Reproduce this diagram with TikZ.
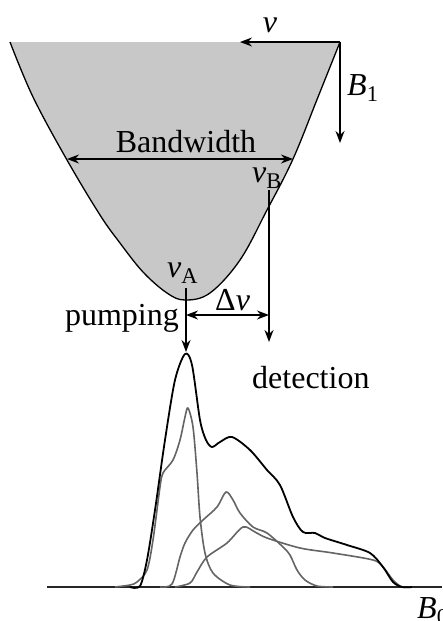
\documentclass[tikz,border=0pt]{standalone}
\usepackage{fontspec}
\setmainfont{Liberation Serif}
\usepackage{tikz}
\usetikzlibrary{arrows.meta}
\definecolor{bandgray}{RGB}{200,200,200}
\definecolor{compgray}{RGB}{100,100,100}
\tikzset{
  lbl/.style={font=\fontsize{32}{38}\selectfont, inner sep=0pt},
  arr/.style={-{Stealth[length=12pt, width=9pt]}, line width=1.4pt},
  darr/.style={{Stealth[length=12pt, width=9pt]}-{Stealth[length=12pt, width=9pt]}, line width=1.4pt},
  total/.style={line width=1.8pt, black, line join=round},
  comp/.style={line width=1.6pt, compgray, line join=round},
}
\begin{document}
\begin{tikzpicture}[x=1pt, y=-1pt]
  \useasboundingbox (0,0) rectangle (442,621);

  % band (dispersion)
  \fill[bandgray] plot[smooth, tension=0.6] coordinates {
    (10,42) (33,97) (67,160) (100,215) (120,243) (143,272) (167,293)
    (185,300) (210,293) (240,260) (267,210) (293,159) (318,97) (340,42)}
    -- cycle;
  \draw[line width=1.3pt] plot[smooth, tension=0.6] coordinates {
    (10,42) (33,97) (67,160) (100,215) (120,243) (143,272) (167,293)
    (185,300) (210,293) (240,260) (267,210) (293,159) (318,97) (340,42)};

  % axes at the corner
  \coordinate (corner) at (340,42);
  \coordinate (nuTip) at (240,42);
  \coordinate (bTip) at (340,143);
  \draw[arr] (corner) -- (nuTip);
  \draw[arr] (corner) -- (bTip);
  \node[lbl, anchor=base] (nu) at (270,32) {\textit{ν}};
  \node[lbl, anchor=base west] (bone) at (347,95) {\textit{B}\textsubscript{1}};

  % bandwidth
  \coordinate (bwL) at (67,159);
  \coordinate (bwR) at (293,159);
  \draw[darr] (bwL) -- (bwR);
  \node[lbl, anchor=base] (bw) at (186,152) {Bandwidth};

  % pumping and detection
  \node[lbl, anchor=base west] (nuB) at (252,182) {\textit{ν}\textsubscript{B}};
  \node[lbl, anchor=base west] (nuA) at (167,277) {\textit{ν}\textsubscript{A}};
  \coordinate (vBtop) at (269,190);
  \coordinate (vBtip) at (269,342);
  \coordinate (vAtop) at (186,288);
  \coordinate (vAtip) at (186,352);
  \draw[arr] (vBtop) -- (vBtip);
  \draw[arr] (vAtop) -- (vAtip);
  \coordinate (dnL) at (186,315);
  \coordinate (dnR) at (269,315);
  \draw[darr] (dnL) -- (dnR);
  \node[lbl, anchor=base west] (dnu) at (215,310) {Δ\textit{ν}};
  \node[lbl, anchor=base east] (pump) at (179,325) {pumping};
  \node[lbl, anchor=base west] (detect) at (252,388) {detection};

  % spectrum
  \coordinate (axL) at (47,587);
  \coordinate (axR) at (442,587);
  \draw[line width=1.3pt, black!85] (axL) -- (axR);
  \node[lbl, anchor=base west] (bzero) at (417,618) {\textit{B}\textsubscript{0}};

  \draw[comp] plot[smooth, tension=0.5] coordinates {
    (115,587) (130,585) (137,582) (147,570) (153,540) (160,487) (163,473)
    (173,460) (180,440) (185,417) (188,408) (193,427) (197,473) (200,517)
    (205,553) (213,573) (230,585) (250,587)};
  \draw[comp] plot[smooth, tension=0.5] coordinates {
    (160,587) (172,584) (180,557) (185,543) (193,530) (203,520) (217,507)
    (226,492) (233,500) (240,513) (253,527) (267,533) (283,547) (290,555)
    (297,570) (305,580) (317,586) (333,587)};
  \draw[comp] plot[smooth, tension=0.5] coordinates {
    (175,587) (190,583) (197,572) (207,557) (227,543) (243,527) (255,532)
    (267,538) (300,548) (333,553) (373,560) (383,567) (393,580) (402,587)
    (412,587)};
  \draw[total] plot[smooth, tension=0.5] coordinates {
    (130,587) (140,586) (147,560) (155,510) (165,440) (175,380) (185,354)
    (192,365) (200,420) (206,440) (212,447) (220,442) (232,437) (250,450)
    (267,470) (280,485) (293,517) (303,532) (315,533) (325,538) (347,545)
    (370,553) (383,567) (393,582) (402,587) (412,587)};
\end{tikzpicture}
\end{document}
